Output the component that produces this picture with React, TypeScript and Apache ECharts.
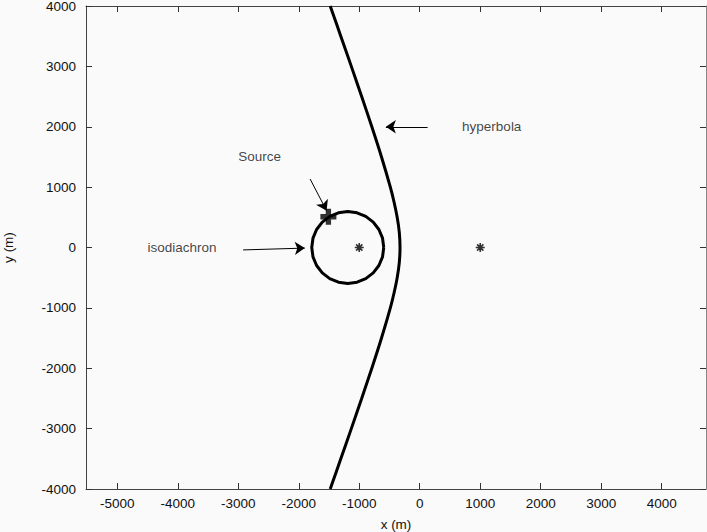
import React, { useEffect, useRef } from "react";
import * as echarts from "echarts";

const xTicks = [-5000, -4000, -3000, -2000, -1000, 0, 1000, 2000, 3000, 4000];
const yTicks = [-4000, -3000, -2000, -1000, 0, 1000, 2000, 3000, 4000];

// hyperbola branch (x, y)
const hyperbolaX = [-1480, -1305, -1131, -960, -792, -632, -486, -424, -373, -338, -326, -338, -373, -424, -486, -632, -792, -960, -1131, -1305, -1480];
const hyperbolaY = [-4000, -3500, -3000, -2500, -2000, -1500, -1000, -750, -500, -250, 0, 250, 500, 750, 1000, 1500, 2000, 2500, 3000, 3500, 4000];

// isodiachron (closed curve)
const circleX = [-595, -615, -675, -769, -892, -1036, -1190, -1344, -1488, -1611, -1705, -1765, -1785, -1765, -1705, -1611, -1488, -1344, -1190, -1036, -892, -769, -675, -615, -595];
const circleY = [0, 154, 298, 421, 515, 575, 595, 575, 515, 421, 298, 154, 0, -154, -298, -421, -515, -575, -595, -575, -515, -421, -298, -154, 0];

const sourcePoint = [-1510, 510];
const receivers = [[-1000, 0], [1000, 0]];

const labelTexts = ["Source", "isodiachron", "hyperbola"];
const labelPos = [[-3000, 1500], [-4500, 0], [700, 2000]];

// arrows: [from, to]
const arrows = [
  [[-1812, 1134], [-1540, 610]],
  [[-2920, -40], [-1900, -10]],
  [[130, 2000], [-560, 2000]],
];

const FONT = "Liberation Sans, Arial, Helvetica, sans-serif";
const FS = 13.5;
const plain = (v: number) => String(v);

export default function App() {
  const ref = useRef<HTMLDivElement>(null);
  useEffect(() => {
    const chart = echarts.init(ref.current!, null, { renderer: "svg" });
    const axisLineStyle = { color: "#444", width: 1 };
    const tickStyle = { color: "#333", width: 1 };
    chart.setOption({
      animation: false,
      backgroundColor: "#fafafa",
      grid: { left: 86, top: 6, right: 1, bottom: 43, containLabel: false, outerBoundsMode: "none" },
      xAxis: [
        {
          type: "value",
          min: -5517,
          max: 4732,
          position: "bottom",
          name: "x (m)",
          nameLocation: "middle",
          nameGap: 28,
          nameTextStyle: { fontFamily: FONT, fontSize: FS, color: "#111" },
          axisLine: { show: true, onZero: false, lineStyle: axisLineStyle },
          axisTick: { show: true, inside: true, length: 6, customValues: xTicks, lineStyle: tickStyle },
          axisLabel: { show: true, customValues: xTicks, margin: 7, fontFamily: FONT, fontSize: FS, color: "#111", formatter: plain },
          splitLine: { show: false },
        },
        {
          type: "value",
          min: -5517,
          max: 4732,
          position: "top",
          axisLine: { show: true, onZero: false, lineStyle: axisLineStyle },
          axisTick: { show: true, inside: true, length: 6, customValues: xTicks, lineStyle: tickStyle },
          axisLabel: { show: false },
          splitLine: { show: false },
        },
      ],
      yAxis: [
        {
          type: "value",
          min: -4000,
          max: 4000,
          interval: 1000,
          position: "left",
          name: "y (m)",
          nameLocation: "middle",
          nameGap: 71,
          nameRotate: 90,
          nameTextStyle: { fontFamily: FONT, fontSize: FS, color: "#111" },
          axisLine: { show: true, onZero: false, lineStyle: axisLineStyle },
          axisTick: { show: true, inside: true, length: 6, lineStyle: tickStyle },
          axisLabel: { show: true, margin: 10, fontFamily: FONT, fontSize: FS, color: "#111", formatter: plain },
          splitLine: { show: false },
        },
        {
          type: "value",
          min: -4000,
          max: 4000,
          interval: 1000,
          position: "right",
          axisLine: { show: true, onZero: false, lineStyle: { color: "#888", width: 1 } },
          axisTick: { show: true, inside: true, length: 6, lineStyle: tickStyle },
          axisLabel: { show: false },
          splitLine: { show: false },
        },
      ],
      series: [
        {
          type: "line",
          data: hyperbolaX.map((x, i) => [x, hyperbolaY[i]]),
          showSymbol: false,
          smooth: 0.3,
          lineStyle: { color: "#000", width: 3 },
          silent: true,
        },
        {
          type: "line",
          data: circleX.map((x, i) => [x, circleY[i]]),
          showSymbol: false,
          lineStyle: { color: "#000", width: 3 },
          silent: true,
        },
        {
          type: "scatter",
          data: receivers,
          symbol: "path://M4,0V8M0,4H8M1.2,1.2L6.8,6.8M1.2,6.8L6.8,1.2",
          symbolSize: 9,
          itemStyle: { color: "transparent", borderColor: "#000", borderWidth: 1.6 },
          silent: true,
        },
        {
          type: "scatter",
          data: [sourcePoint],
          symbol: "path://M5,0H10V5H15V10H10V15H5V10H0V5H5Z",
          symbolSize: 16,
          itemStyle: { color: "#000" },
          silent: true,
        },
        {
          type: "lines",
          coordinateSystem: "cartesian2d",
          data: arrows.map((a) => ({ coords: a })),
          symbol: ["none", "arrow"],
          symbolSize: [0, 10],
          lineStyle: { color: "#000", width: 1, opacity: 1 },
          silent: true,
        },
        {
          type: "scatter",
          data: labelPos.map((p, i) => ({ value: p, name: labelTexts[i] })),
          symbolSize: 0,
          label: {
            show: true,
            position: "right",
            distance: 0,
            formatter: (p: any) => p.name,
            fontFamily: FONT,
            fontSize: FS,
            color: "#111",
          },
          silent: true,
        },
      ],
    });
    return () => chart.dispose();
  }, []);
  return (
    <div
      ref={ref}
      style={{ position: "fixed", left: 0, top: 0, width: 707, height: 532 }}
    />
  );
}
